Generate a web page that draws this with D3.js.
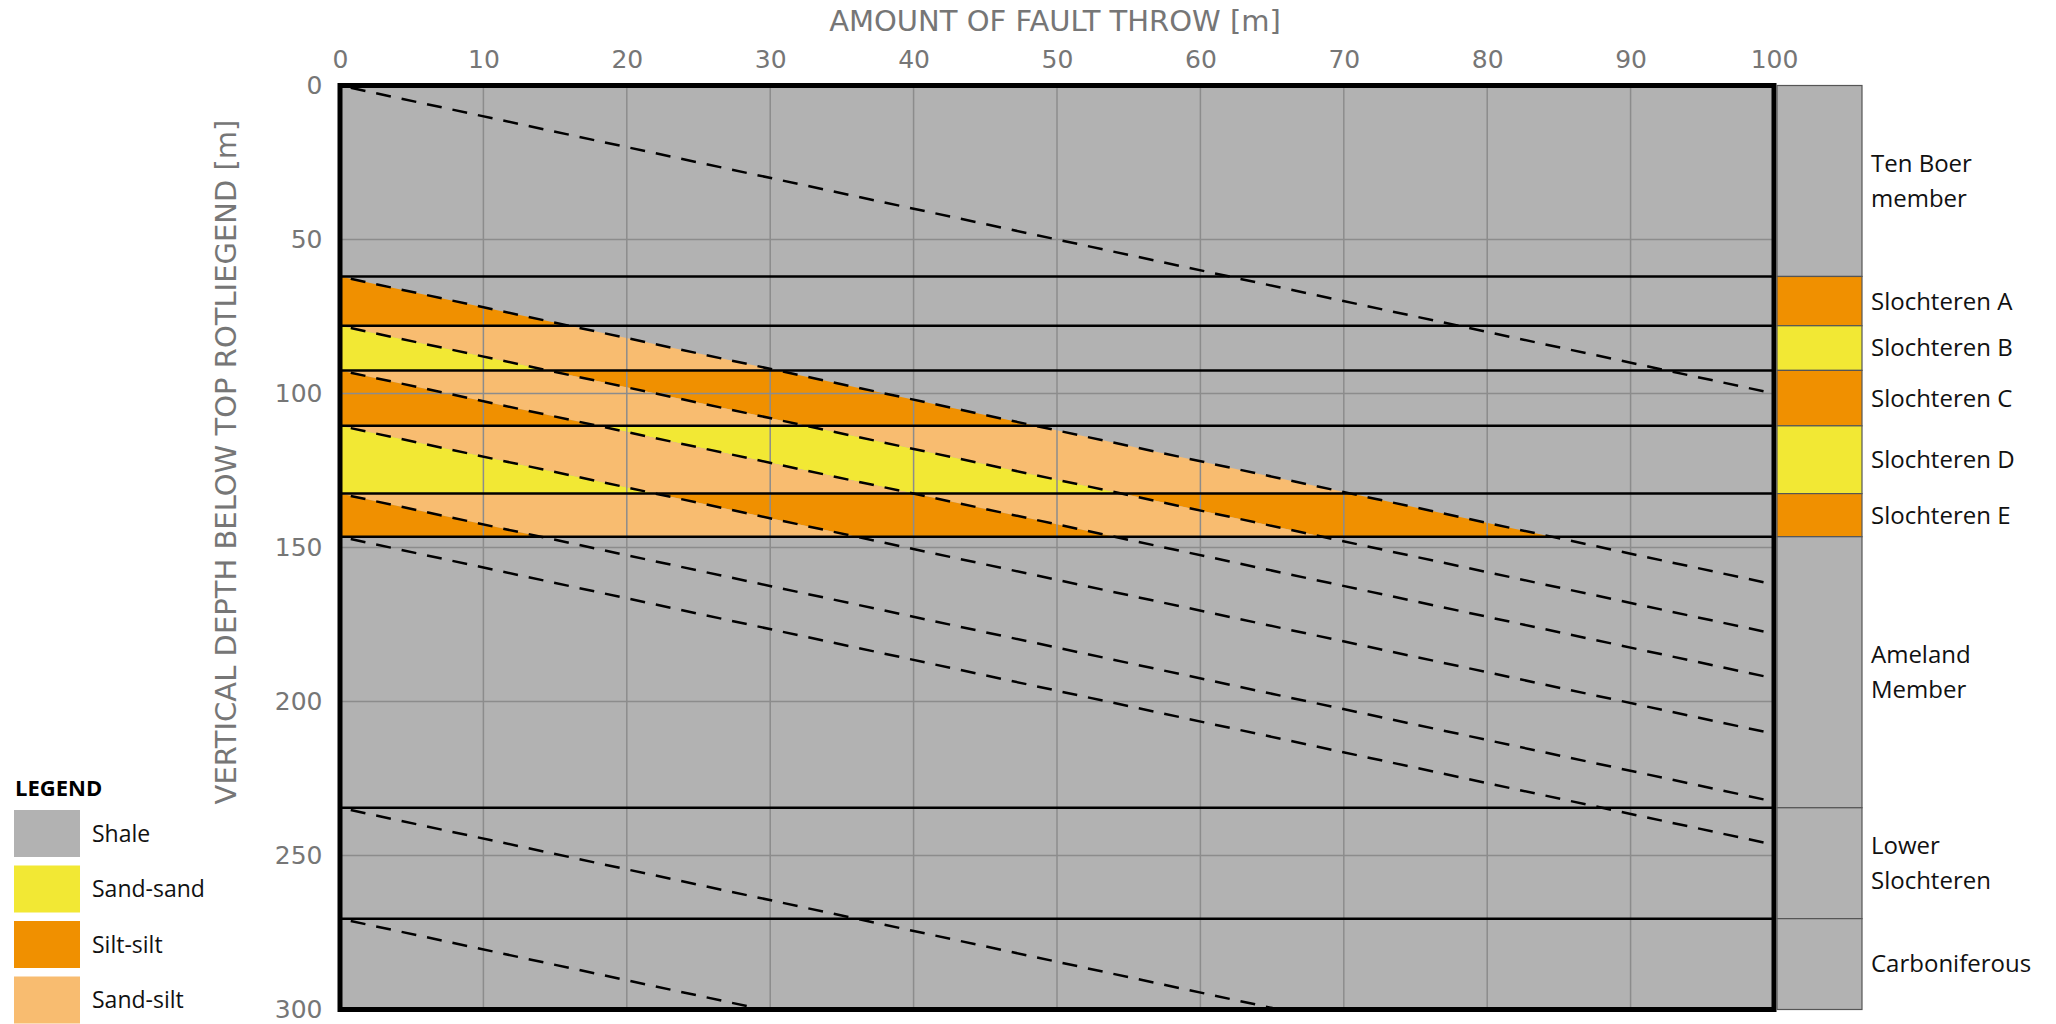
<!DOCTYPE html>
<html>
<head>
<meta charset="utf-8">
<script src="https://cdn.jsdelivr.net/npm/d3@7/dist/d3.min.js"></script>
<style>
  body { margin: 0; background: #fff; }
</style>
</head>
<body>
<script>
// Stratigraphy (same on both sides of the fault)
var layerNames = [
  ["Ten Boer", "member"], ["Slochteren A"], ["Slochteren B"], ["Slochteren C"],
  ["Slochteren D"], ["Slochteren E"], ["Ameland", "Member"], ["Lower", "Slochteren"], ["Carboniferous"]
];
var layerTops = [0, 62, 78, 92.5, 110.5, 132.5, 146.5, 234.5, 270.5];
var layerBase = 300;
var layerLith = ["shale", "silt", "sand", "silt", "sand", "silt", "shale", "shale", "shale"];

var legendLabels = ["Shale", "Sand-sand", "Silt-silt", "Sand-silt"];
var legendKeys = ["shale", "sand-sand", "silt-silt", "sand-silt"];

var throwTicks = [0, 10, 20, 30, 40, 50, 60, 70, 80, 90, 100];
var depthTicks = [0, 50, 100, 150, 200, 250, 300];

var colors = {
  "shale": "#b2b2b2",
  "sand": "#f2e834",
  "silt": "#f09000",
  "sand-sand": "#f2e834",
  "silt-silt": "#f09000",
  "sand-silt": "#f8bc70"
};

// Chart Params
var svgWidth = 2056;
var svgHeight = 1024;
var margin = { top: 85.5, right: 282, bottom: 14.5, left: 340 };
var width = svgWidth - margin.left - margin.right;
var height = svgHeight - margin.top - margin.bottom;

var svg = d3.select("body").append("svg")
  .attr("width", svgWidth)
  .attr("height", svgHeight);

var chartGroup = svg.append("g")
  .attr("transform", `translate(${margin.left}, ${margin.top})`);

var x = d3.scaleLinear().domain([0, 100]).range([0, width]);
var y = d3.scaleLinear().domain([0, 300]).range([0, height]);

var layers = layerTops.map(function(t, i) {
  return {
    name: layerNames[i],
    top: t,
    bot: i < layerTops.length - 1 ? layerTops[i + 1] : layerBase,
    lith: layerLith[i]
  };
});

// background = shale everywhere
chartGroup.append("rect")
  .attr("width", width).attr("height", height)
  .attr("fill", colors.shale);

// keep the part of a polygon where f(p) >= 0
function clip(poly, f) {
  var out = [];
  for (var i = 0; i < poly.length; i++) {
    var a = poly[i], b = poly[(i + 1) % poly.length];
    var fa = f(a), fb = f(b);
    if (fa >= 0) out.push(a);
    if ((fa >= 0) !== (fb >= 0)) {
      var s = fa / (fa - fb);
      out.push([a[0] + s * (b[0] - a[0]), a[1] + s * (b[1] - a[1])]);
    }
  }
  return out;
}

// juxtaposition cells: footwall layer against hanging wall layer
var cells = [];
layers.forEach(function(fw) {
  if (fw.lith === "shale") return;
  layers.forEach(function(hw) {
    if (hw.lith === "shale") return;
    var poly = [[0, fw.top], [100, fw.top], [100, fw.bot], [0, fw.bot]];
    poly = clip(poly, p => p[1] - p[0] - hw.top);
    poly = clip(poly, p => hw.bot - (p[1] - p[0]));
    if (poly.length < 3) return;
    var key = fw.lith === hw.lith ? fw.lith + "-" + hw.lith : "sand-silt";
    cells.push({ poly: poly, key: key });
  });
});

chartGroup.selectAll("path.cell")
  .data(cells)
  .enter()
  .append("path")
  .attr("class", "cell")
  .attr("d", d => "M" + d.poly.map(p => x(p[0]) + "," + y(p[1])).join("L") + "Z")
  .attr("fill", d => colors[d.key]);

// gridlines
chartGroup.selectAll("line.vgrid")
  .data(throwTicks.slice(1, -1))
  .enter().append("line")
  .attr("x1", d => x(d)).attr("x2", d => x(d))
  .attr("y1", 0).attr("y2", height)
  .attr("stroke", "#8c8c8c").attr("stroke-width", 1.5);

chartGroup.selectAll("line.hgrid")
  .data(depthTicks.slice(1, -1))
  .enter().append("line")
  .attr("x1", 0).attr("x2", width)
  .attr("y1", d => y(d)).attr("y2", d => y(d))
  .attr("stroke", "#8c8c8c").attr("stroke-width", 1.5);

// footwall boundaries
chartGroup.selectAll("line.bound")
  .data(layers.slice(1))
  .enter().append("line")
  .attr("x1", 0).attr("x2", width)
  .attr("y1", d => y(d.top)).attr("y2", d => y(d.top))
  .attr("stroke", "#000").attr("stroke-width", 2.5);

// hanging wall boundaries (shifted by the throw)
chartGroup.selectAll("line.hw")
  .data(layers)
  .enter().append("line")
  .attr("x1", x(0)).attr("y1", d => y(d.top))
  .attr("x2", d => x(Math.min(100, layerBase - d.top)))
  .attr("y2", d => y(d.top + Math.min(100, layerBase - d.top)))
  .attr("stroke", "#000").attr("stroke-width", 2.5)
  .attr("stroke-dasharray", "15,11")
  .attr("stroke-dashoffset", 15);

// frame
chartGroup.append("rect")
  .attr("width", width).attr("height", height)
  .attr("fill", "none").attr("stroke", "#000").attr("stroke-width", 5);

// axes
var xAxis = d3.axisTop(x).tickValues(throwTicks).tickSize(0).tickPadding(17.5);
var yAxis = d3.axisLeft(y).tickValues(depthTicks).tickSize(0).tickPadding(17.5);

var gx = chartGroup.append("g").call(xAxis);
var gy = chartGroup.append("g").call(yAxis);
[gx, gy].forEach(function(g) {
  g.select(".domain").remove();
  g.selectAll("text")
    .attr("font-family", "DejaVu Sans")
    .attr("font-size", 25)
    .attr("fill", "#767676");
});

svg.append("text")
  .attr("x", 1055).attr("y", 31)
  .attr("text-anchor", "middle")
  .attr("font-family", "DejaVu Sans").attr("font-size", 29)
  .attr("fill", "#767676")
  .text("AMOUNT OF FAULT THROW [m]");

svg.append("text")
  .attr("transform", "translate(226, 462) rotate(-90)")
  .attr("text-anchor", "middle")
  .attr("dominant-baseline", "central")
  .attr("font-family", "DejaVu Sans").attr("font-size", 29)
  .attr("fill", "#767676")
  .text("VERTICAL DEPTH BELOW TOP ROTLIEGEND [m]");

// stratigraphic column on the right
var colX = width + 3, colW = 85;
var col = chartGroup.append("g");
col.selectAll("rect")
  .data(layers)
  .enter().append("rect")
  .attr("x", colX).attr("width", colW)
  .attr("y", d => y(d.top)).attr("height", d => y(d.bot) - y(d.top))
  .attr("fill", d => colors[d.lith])
  .attr("stroke", "#555").attr("stroke-width", 1.2);

var labels = chartGroup.selectAll("text.layer")
  .data(layers)
  .enter().append("text")
  .attr("class", "layer")
  .attr("font-family", "Open Sans").attr("font-size", 24)
  .attr("fill", "#111")
  .attr("x", colX + colW + 9)
  .attr("y", d => y((d.top + d.bot) / 2));

labels.selectAll("tspan")
  .data(d => d.name.map((s, i) => ({ s: s, i: i, n: d.name.length })))
  .enter().append("tspan")
  .attr("x", colX + colW + 9)
  .attr("dy", d => d.i === 0 ? (0.35 - (d.n - 1) * 0.72) + "em" : "1.44em")
  .text(d => d.s);

// legend
var legend = svg.append("g");
legend.append("text")
  .attr("x", 15).attr("y", 796)
  .attr("font-family", "Open Sans").attr("font-weight", "bold").attr("font-size", 22)
  .attr("fill", "#000")
  .text("LEGEND");

var items = legend.selectAll("g.item")
  .data(legendLabels)
  .enter().append("g")
  .attr("transform", (d, i) => `translate(14, ${810 + i * 55.5})`);

items.append("rect")
  .attr("width", 66).attr("height", 47)
  .attr("fill", (d, i) => colors[legendKeys[i]]);

items.append("text")
  .attr("x", 78).attr("y", 23.5)
  .attr("dy", "0.35em")
  .attr("font-family", "Open Sans").attr("font-size", 23)
  .attr("fill", "#111")
  .text(d => d);
</script>
</body>
</html>
